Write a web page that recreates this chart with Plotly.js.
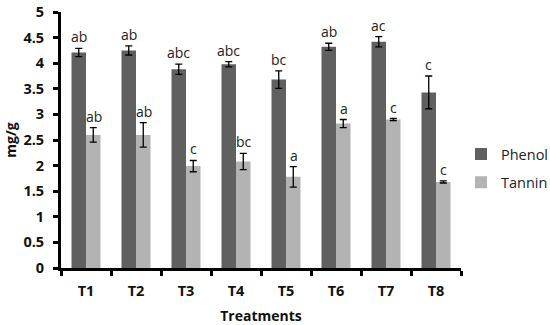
<!DOCTYPE html>
<html><head><meta charset="utf-8">
<script src="https://cdn.plot.ly/plotly-3.0.1.min.js"></script>
<style>html,body{margin:0;padding:0;background:#fff}#c{width:550px;height:325px}</style>
</head><body><div id="c"></div>
<script>
var categories = ["T1","T2","T3","T4","T5","T6","T7","T8"];
var phenol = [4.21, 4.25, 3.88, 3.98, 3.68, 4.32, 4.42, 3.43];
var phenolErr = [0.08, 0.09, 0.10, 0.05, 0.17, 0.07, 0.10, 0.32];
var tannin = [2.60, 2.60, 1.99, 2.08, 1.78, 2.82, 2.90, 1.68];
var tanninErr = [0.14, 0.24, 0.11, 0.16, 0.20, 0.08, 0.02, 0.02];
var phenolLetters = ["ab","ab","abc","abc","bc","ab","ac","c"];
var tanninLetters = ["ab","ab","c","bc","a","a","c","c"];

var font = "Open Sans, Lato, sans-serif";
var traces = [
  {type:"bar", name:"Phenol", x:categories, y:phenol, marker:{color:"#606060"}, legend:"legend",
   error_y:{type:"data", array:phenolErr, visible:true, color:"#000", thickness:1.3, width:3.5}},
  {type:"bar", name:"Tannin", x:categories, y:tannin, marker:{color:"#b3b3b3"}, legend:"legend2",
   error_y:{type:"data", array:tanninErr, visible:true, color:"#000", thickness:1.3, width:3.5}}
];
var annotations = [];
categories.forEach(function(c,i){
  annotations.push({x:c, y:phenol[i]+phenolErr[i], text:phenolLetters[i], showarrow:false,
    xref:"x", yref:"y", xshift:-7.5, yanchor:"bottom", yshift:0, font:{family:font,size:14,color:"#222"}});
  annotations.push({x:c, y:tannin[i]+tanninErr[i], text:tanninLetters[i], showarrow:false,
    xref:"x", yref:"y", xshift:7.5, yanchor:"bottom", yshift:0, font:{family:font,size:14,color:"#222"}});
});
var legFont = {family:font,size:14.5,color:"#222"};
var layout = {
  width:550, height:325,
  margin:{l:61, r:89, t:12, b:57, autoexpand:false},
  paper_bgcolor:"#fff", plot_bgcolor:"#fff",
  barmode:"group", bargap:0.42, bargroupgap:0,
  showlegend:true,
  legend:{x:1.0, y:0.445, xanchor:"left", yanchor:"middle", font:legFont, itemwidth:30},
  legend2:{x:1.0, y:0.335, xanchor:"left", yanchor:"middle", font:legFont, itemwidth:30},
  xaxis:{type:"category", showline:true, linecolor:"#000", linewidth:3, ticks:"outside",
    tickson:"boundaries", ticklen:5, tickwidth:3, tickcolor:"#000", showgrid:false, zeroline:false,
    ticklabelstandoff:8,
    tickfont:{family:font,size:14.5,color:"#111",weight:"bold"},
    title:{text:"<b>Treatments</b>", font:{family:font,size:14,color:"#111"}, standoff:12}},
  yaxis:{range:[0,5], dtick:0.5, showline:true, linecolor:"#000", linewidth:3, ticks:"outside",
    ticklen:5, tickwidth:3, tickcolor:"#000", showgrid:false, zeroline:false,
    ticklabelstandoff:6,
    tickfont:{family:font,size:14.5,color:"#111",weight:"bold"},
    title:{text:"<b>mg/g</b>", font:{family:font,size:14,color:"#111"}, standoff:4}},
  annotations:annotations
};
Plotly.newPlot("c", traces, layout, {displayModeBar:false, staticPlot:true});
</script></body></html>
